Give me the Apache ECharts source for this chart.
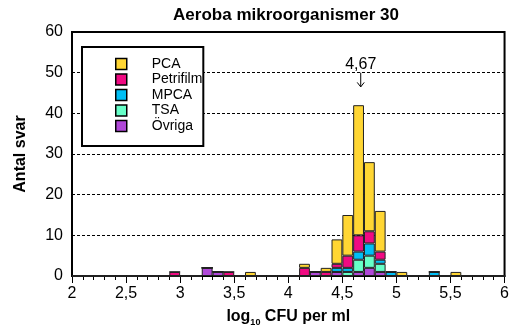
<!DOCTYPE html>
<html>
<head>
<meta charset="utf-8">
<script src="https://cdn.jsdelivr.net/npm/echarts@6/dist/echarts.min.js"></script>
<style>
html,body{margin:0;padding:0;background:#fff;}
#c{width:512px;height:334px;}
</style>
</head>
<body>
<div id="c"></div>
<script>
// bin starts (log10 CFU/ml), bin width 0.1
var binStarts = [2.0,2.1,2.2,2.3,2.4,2.5,2.6,2.7,2.8,2.9,3.0,3.1,3.2,3.3,3.4,3.5,3.6,3.7,3.8,3.9,
                 4.0,4.1,4.2,4.3,4.4,4.5,4.6,4.7,4.8,4.9,5.0,5.1,5.2,5.3,5.4,5.5,5.6,5.7,5.8,5.9];
var pca       = [0,0,0,0,0,0,0,0,0,0, 0,0,0,0,0,0,1,0,0,0, 0,1,0,1,6,10,32,17,10,0, 1,0,0,0,0,1,0,0,0,0];
var petrifilm = [0,0,0,0,0,0,0,0,0,1, 0,0,0,0,1,0,0,0,0,0, 0,2,0,1,1,3,4,3,2,0, 0,0,0,0,0,0,0,0,0,0];
var mpca      = [0,0,0,0,0,0,0,0,0,0, 0,0,0,0,0,0,0,0,0,0, 0,0,0,0,1,1,2,3,1,1, 0,0,0,1,0,0,0,0,0,0];
var tsa       = [0,0,0,0,0,0,0,0,0,0, 0,0,0,0,0,0,0,0,0,0, 0,0,0,0,0,1,3,3,2,0, 0,0,0,0,0,0,0,0,0,0];
var ovriga    = [0,0,0,0,0,0,0,0,0,0, 0,0,2,1,0,0,0,0,0,0, 0,0,1,0,1,0,1,2,1,0, 0,0,0,0,0,0,0,0,0,0];
var seriesNames = ['PCA','Petrifilm','MPCA','TSA','Övriga'];
var seriesColors = ['#FFD633','#F00A82','#00BFF5','#66FFC8','#B048D8'];
var median = 4.67;
var medianLabel = '4,67';

var chart = echarts.init(document.getElementById('c'), null, {renderer:'canvas'});
var FONT = 'Liberation Sans, Arial, sans-serif';
var dataBySeries = [pca, petrifilm, mpca, tsa, ovriga];

// stacking from bottom: Övriga, TSA, MPCA, Petrifilm, PCA
var series = [];
for (var k = dataBySeries.length - 1; k >= 0; k--) {
  series.push({
    name: seriesNames[k],
    type: 'bar',
    stack: 'all',
    xAxisIndex: 0,
    barCategoryGap: 0,
    barGap: 0,
    data: dataBySeries[k],
    itemStyle: {color: seriesColors[k], borderColor: '#222', borderWidth: 1},
    emphasis: {disabled: true}
  });
}

var option = {
  animation: false,
  title: {
    text: 'Aeroba mikroorganismer 30',
    left: 281, top: 2, textAlign: 'center',
    textStyle: {fontFamily: FONT, fontSize: 17, fontWeight: 'bold', color: '#000'}
  },
  legend: {
    data: seriesNames,
    orient: 'vertical',
    left: 82, top: 47,
    padding: [10, 1, 13, 33],
    itemWidth: 11, itemHeight: 11, itemGap: 1.5,
    icon: 'rect',
    backgroundColor: '#fff',
    borderColor: '#000', borderWidth: 2, borderRadius: 0,
    itemStyle: {borderColor: '#000', borderWidth: 1.5},
    textStyle: {fontFamily: FONT, fontSize: 14, lineHeight: 14, color: '#000', padding: [0, 0, 0, 20]}
  },
  grid: {left: 72, right: 7, top: 32, bottom: 58, show: true, borderColor: '#000', borderWidth: 2, backgroundColor: 'transparent'},
  xAxis: [
    {
      type: 'category', data: binStarts, boundaryGap: true,
      axisLine: {show: false}, axisTick: {show: false}, axisLabel: {show: false}, splitLine: {show: false}
    },
    {
      type: 'value', min: 2, max: 6, interval: 0.5, position: 'bottom',
      axisLine: {show: true, onZero: false, lineStyle: {color: '#000', width: 2}},
      axisTick: {show: true, length: 7, lineStyle: {color: '#000', width: 1}},
      minorTick: {show: true, splitNumber: 5, length: 4, lineStyle: {color: '#000', width: 1}},
      splitLine: {show: false},
      axisLabel: {
        margin: 10, fontFamily: FONT, fontSize: 16, color: '#000',
        formatter: function (v) { return String(v).replace('.', ','); }
      },
      name: '{a|log}{s|10}{a| CFU per ml}',
      nameLocation: 'middle', nameGap: 31,
      nameTextStyle: {
        rich: {
          a: {fontFamily: FONT, fontSize: 16, fontWeight: 'bold', color: '#000', lineHeight: 18},
          s: {fontFamily: FONT, fontSize: 9, fontWeight: 'bold', color: '#000', lineHeight: 18, padding: [11, 0, 0, 0]}
        }
      }
    }
  ],
  yAxis: {
    type: 'value', min: 0, max: 60, interval: 10,
    axisLine: {show: true, lineStyle: {color: '#000', width: 2}},
    axisTick: {show: false},
    splitLine: {show: true, lineStyle: {color: '#000', width: 1, type: [3, 2]}},
    axisLabel: {margin: 9, fontFamily: FONT, fontSize: 16, color: '#000'},
    name: 'Antal svar', nameLocation: 'middle', nameGap: 43,
    nameTextStyle: {fontFamily: FONT, fontSize: 16, fontWeight: 'bold', color: '#000'}
  },
  series: series
};
chart.setOption(option);

// median annotation positioned through the value x-axis and y-axis
var pTop = chart.convertToPixel({xAxisIndex: 1, yAxisIndex: 0}, [median, 50]);
var pArrowEnd = chart.convertToPixel({xAxisIndex: 1, yAxisIndex: 0}, [median, 46.5]);
var pText = chart.convertToPixel({xAxisIndex: 1, yAxisIndex: 0}, [median, 51.9]);
chart.setOption({
  graphic: [
    {type: 'text', x: pText[0], y: pText[1], z: 20,
     style: {text: medianLabel, fontFamily: FONT, fontSize: 16, fill: '#000', align: 'center', verticalAlign: 'middle'}},
    {type: 'line', z: 20, shape: {x1: pTop[0], y1: pTop[1], x2: pArrowEnd[0], y2: pArrowEnd[1]},
     style: {stroke: '#000', lineWidth: 1}},
    {type: 'polyline', z: 20, shape: {points: [[pArrowEnd[0] - 3.5, pArrowEnd[1] - 4.5], [pArrowEnd[0], pArrowEnd[1]], [pArrowEnd[0] + 3.5, pArrowEnd[1] - 4.5]]},
     style: {stroke: '#000', lineWidth: 1, fill: null}}
  ]
});
</script>
</body>
</html>
